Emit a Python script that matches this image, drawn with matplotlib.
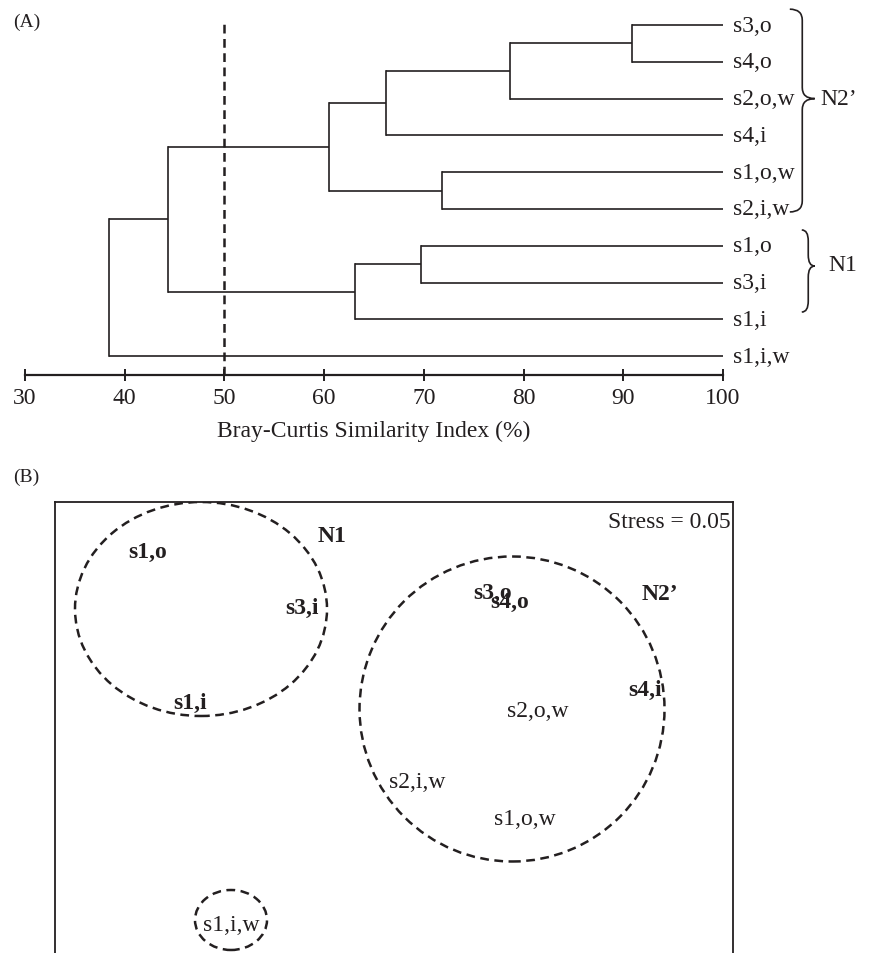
import numpy as np
import matplotlib.pyplot as plt
from matplotlib.patches import Ellipse, PathPatch
from matplotlib.path import Path

plt.rcParams['font.family'] = ['Liberation Serif', 'DejaVu Serif']
INK = '#231f20'

# ---- (A) dendrogram data ----
leaves = ['s3,o', 's4,o', 's2,o,w', 's4,i', 's1,o,w', 's2,i,w',
          's1,o', 's3,i', 's1,i', 's1,i,w']
# merges: (child a, child b, Bray-Curtis similarity %); new nodes numbered from 10
merge_a = [0, 10, 11, 4, 12, 6, 15, 14, 17]
merge_b = [1, 2, 3, 5, 13, 7, 8, 16, 9]
merge_sim = [90.9, 78.6, 66.2, 71.8, 60.5, 69.7, 63.1, 44.3, 38.4]
cut_level = 50
xticks = [30, 40, 50, 60, 70, 80, 90, 100]

# ---- (B) NMDS data (plot units) ----
mds_labels = ['s1,o', 's3,i', 's1,i', 's3,o', 's4,o', 's4,i',
              's2,o,w', 's2,i,w', 's1,o,w', 's1,i,w']
mds_x = [93, 247, 135, 438, 455, 590, 483, 362, 470, 176]
mds_y = [402, 346, 251, 361, 352, 264, 242, 171, 134, 28]
mds_bold = [True, True, True, True, True, True, False, False, False, False]
groups = ['N1', "N2\u2019", '']
group_cx = [146, 457, 176]
group_cy = [344, 244, 33]
group_w = [252, 305, 72]
group_h = [214, 305, 60]
group_lx = [277, 605]
group_ly = [417, 359]
stress = 0.05

W, H = 874, 954
fig = plt.figure(figsize=(W / 100, H / 100), dpi=100)

# ---------------- panel A ----------------
ax1 = fig.add_axes([25 / W, 1 - 376 / H, 698 / W, 372 / H])
step = 36.8
top_px = 26
ax1.set_xlim(30, 100)
ax1.set_ylim((376 - top_px) / step, (4 - top_px) / step)

pos = {i: (100.0, float(i)) for i in range(len(leaves))}
node = len(leaves)
for a, b, s in zip(merge_a, merge_b, merge_sim):
    xa, ya = pos[a]
    xb, yb = pos[b]
    ax1.plot([xa, s], [ya, ya], color=INK, lw=1.2, solid_capstyle='butt')
    ax1.plot([xb, s], [yb, yb], color=INK, lw=1.2, solid_capstyle='butt')
    ax1.plot([s, s], [ya, yb], color=INK, lw=1.2, solid_capstyle='projecting')
    pos[node] = (s, (ya + yb) / 2)
    node += 1

for i, name in enumerate(leaves):
    ax1.text(101.0, i, name, ha='left', va='center', fontsize=17, color=INK)

ylo = ax1.get_ylim()[0]
ax1.plot([cut_level, cut_level], [ylo, -0.08], color=INK, lw=1.8,
         linestyle=(0, (3.5, 2.2)), clip_on=False)


def brace(ax, x0, x1, yt, yb, yc, r=0.3):
    xm = (x0 + x1) / 2
    verts = [(x0, yt), (xm, yt), (xm, yt + r), (xm, yc - r), (xm, yc), (x1, yc),
             (xm, yc), (xm, yc + r), (xm, yb - r), (xm, yb), (x0, yb)]
    codes = [Path.MOVETO, Path.CURVE3, Path.CURVE3, Path.LINETO, Path.CURVE3,
             Path.CURVE3, Path.CURVE3, Path.CURVE3, Path.LINETO, Path.CURVE3,
             Path.CURVE3]
    ax.add_patch(PathPatch(Path(verts, codes), fill=False, ec=INK, lw=1.2,
                           clip_on=False))


brace(ax1, 106.7, 109.2, -0.43, 5.08, 2.0)
ax1.text(109.8, 2.0, "N2\u2019", ha='left', va='center', fontsize=17, color=INK)
brace(ax1, 107.9, 109.2, 5.57, 7.8, 6.55)
ax1.text(110.6, 6.5, 'N1', ha='left', va='center', fontsize=17, color=INK)

for side in ['top', 'left', 'right']:
    ax1.spines[side].set_visible(False)
ax1.spines['bottom'].set_linewidth(1.6)
ax1.spines['bottom'].set_color(INK)
ax1.set_yticks([])
ax1.set_xticks(xticks)
ax1.tick_params(axis='x', direction='inout', length=8, width=1.4, pad=5,
                labelsize=17, colors=INK)
ax1.set_xlabel('Bray-Curtis Similarity Index (%)', fontsize=17, color=INK,
               labelpad=8)

fig.text(13 / W, 1 - 22 / H, '(A)', ha='left', va='center', fontsize=14, color=INK)
fig.text(13 / W, 1 - 477 / H, '(B)', ha='left', va='center', fontsize=14, color=INK)

# ---------------- panel B ----------------
ax2 = fig.add_axes([55 / W, 0, 678 / W, 451 / H])
ax2.set_xlim(0, 678)
ax2.set_ylim(0, 451)
for side in ['top', 'left', 'right']:
    ax2.spines[side].set_linewidth(1.3)
    ax2.spines[side].set_color(INK)
ax2.spines['bottom'].set_visible(False)
ax2.set_xticks([])
ax2.set_yticks([])

for cx, cy, w, h in zip(group_cx, group_cy, group_w, group_h):
    ax2.add_patch(Ellipse((cx, cy), w, h, fill=False, ec=INK, lw=1.8,
                          linestyle=(0, (3.5, 2.2))))

for lab, x, y, b in zip(mds_labels, mds_x, mds_y, mds_bold):
    ax2.text(x, y, lab, ha='center', va='center', fontsize=17, color=INK,
             fontweight='bold' if b else 'normal')

for g, x, y in zip(groups[:2], group_lx, group_ly):
    ax2.text(x, y, g, ha='center', va='center', fontsize=17, color=INK,
             fontweight='bold')

ax2.text(676, 432, f'Stress = {stress:.2f}', ha='right', va='center',
         fontsize=17, color=INK)

fig.savefig('out.png', dpi=100)
